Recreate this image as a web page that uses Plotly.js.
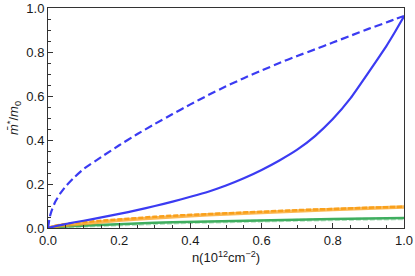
<!DOCTYPE html>
<html><head><meta charset="utf-8">
<script src="https://cdn.plot.ly/plotly-3.0.1.min.js"></script>
<style>html,body{margin:0;padding:0;background:#fff}#plot{width:415px;height:276px}</style>
</head><body><div id="plot"></div>
<script>
const n = [0, 0.005, 0.01, 0.02, 0.035, 0.05, 0.075, 0.1, 0.15, 0.2, 0.25, 0.3, 0.35, 0.4, 0.45, 0.5, 0.55, 0.6, 0.65, 0.7, 0.75, 0.8, 0.85, 0.9, 0.95, 0.975, 1.0];
const blueDashed = [0, 0.05, 0.078, 0.118, 0.158, 0.19, 0.232, 0.268, 0.323, 0.376, 0.426, 0.473, 0.518, 0.562, 0.604, 0.644, 0.681, 0.716, 0.75, 0.782, 0.812, 0.843, 0.874, 0.905, 0.934, 0.949, 0.964];
const blueSolid = [0, 0.002, 0.004, 0.008, 0.013, 0.018, 0.026, 0.033, 0.048, 0.064, 0.081, 0.1, 0.12, 0.142, 0.165, 0.193, 0.226, 0.264, 0.307, 0.356, 0.418, 0.495, 0.59, 0.706, 0.826, 0.892, 0.962];
const orangeSolid = [0, 0.002, 0.004, 0.007, 0.011, 0.013, 0.017, 0.021, 0.028, 0.035, 0.041, 0.047, 0.052, 0.056, 0.06, 0.064, 0.068, 0.071, 0.075, 0.078, 0.081, 0.084, 0.087, 0.09, 0.093, 0.094, 0.096];
const orangeDashed = [0, 0.003, 0.006, 0.01, 0.015, 0.018, 0.022, 0.026, 0.033, 0.04, 0.046, 0.051, 0.056, 0.06, 0.064, 0.068, 0.071, 0.074, 0.078, 0.081, 0.084, 0.087, 0.09, 0.092, 0.095, 0.096, 0.097];
const greenSolid = [0, 0.001, 0.002, 0.004, 0.006, 0.007, 0.009, 0.011, 0.015, 0.019, 0.021, 0.024, 0.026, 0.028, 0.03, 0.032, 0.034, 0.035, 0.037, 0.038, 0.04, 0.041, 0.042, 0.043, 0.044, 0.045, 0.045];
const greenDashed = [0, 0.0, 0.001, 0.002, 0.004, 0.005, 0.007, 0.008, 0.012, 0.016, 0.018, 0.021, 0.023, 0.025, 0.027, 0.029, 0.031, 0.032, 0.034, 0.035, 0.037, 0.038, 0.039, 0.04, 0.041, 0.042, 0.042];
const xTicks = [0, 0.2, 0.4, 0.6, 0.8, 1.0];
const xTickText = ['0.0', '0.2', '0.4', '0.6', '0.8', '1.0'];
const yTicks = [0, 0.2, 0.4, 0.6, 0.8, 1.0];
const yTickText = ['0.0', '0.2', '0.4', '0.6', '0.8', '1.0'];

const BLUE = '#3b3bf2', ORANGE = '#f9a01b', GREEN = '#3fae5f';
const traces = [
  {x: n, y: greenDashed, mode: 'lines', line: {color: 'rgba(63,174,95,0.35)', width: 3, dash: '5px,2px'}},
  {x: n, y: greenSolid, mode: 'lines', line: {color: GREEN, width: 2.5}},
  {x: n, y: orangeSolid, mode: 'lines', line: {color: 'rgba(249,160,27,0.75)', width: 3.5}},
  {x: n, y: orangeDashed, mode: 'lines', line: {color: ORANGE, width: 2.5, dash: '5px,2px'}},
  {x: n, y: blueSolid, mode: 'lines', line: {color: BLUE, width: 2.2, shape: 'spline', smoothing: 0.4}},
  {x: n, y: blueDashed, mode: 'lines', line: {color: BLUE, width: 2.2, dash: '8px,4px', shape: 'spline', smoothing: 0.4}}
];
const font = {family: 'Liberation Sans, Arial, sans-serif', size: 13, color: '#1a1a1a'};
const layout = {
  width: 415, height: 276,
  margin: {l: 48, r: 11, t: 8, b: 48},
  showlegend: false,
  paper_bgcolor: '#fff', plot_bgcolor: '#fff',
  font: font,
  xaxis: {
    range: [0, 1], tickvals: xTicks, ticktext: xTickText,
    ticks: 'inside', ticklen: 5, tickcolor: '#333', tickwidth: 1,
    minor: {dtick: 0.05, ticks: 'inside', ticklen: 3, tickcolor: '#333'},
    showline: true, linecolor: '#333', linewidth: 1, mirror: true,
    showgrid: false, zeroline: false,
    title: {text: 'n(10<sup>12</sup>cm<sup>\u22122</sup>)', font: font, standoff: 6}
  },
  yaxis: {
    range: [0, 1], tickvals: yTicks, ticktext: yTickText,
    ticks: 'inside', ticklen: 5, tickcolor: '#333', tickwidth: 1,
    minor: {dtick: 0.05, ticks: 'inside', ticklen: 3, tickcolor: '#333'},
    showline: true, linecolor: '#333', linewidth: 1, mirror: true,
    showgrid: false, zeroline: false,
    title: {text: '<i>m\u0304</i><sup>*</sup>/<i>m</i><sub>0</sub>', font: font, standoff: 4}
  }
};
Plotly.newPlot('plot', traces, layout, {staticPlot: true, displayModeBar: false});
</script></body></html>
